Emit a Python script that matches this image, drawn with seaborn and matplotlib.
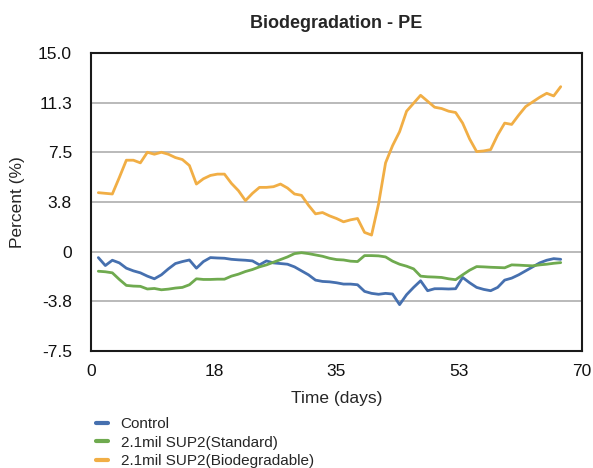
import pandas as pd
import matplotlib
matplotlib.use("Agg")
import matplotlib.pyplot as plt
import seaborn as sns

# values (percent), one per day
days = list(range(1, 68))

control = [-0.45, -1.05, -0.65, -0.85, -1.25, -1.45, -1.6, -1.85, -2.05, -1.75,
           -1.3, -0.9, -0.75, -0.63, -1.25, -0.75, -0.45, -0.48, -0.5, -0.58,
           -0.62, -0.65, -0.7, -1.0, -0.7, -0.85, -0.9, -0.95, -1.15, -1.45,
           -1.75, -2.15, -2.25, -2.28, -2.35, -2.45, -2.45, -2.5, -3.0, -3.15,
           -3.22, -3.15, -3.2, -4.0, -3.25, -2.7, -2.2, -2.95, -2.8, -2.8,
           -2.82, -2.8, -1.95, -2.35, -2.7, -2.85, -2.95, -2.7, -2.15, -2.0,
           -1.75, -1.45, -1.15, -0.85, -0.65, -0.53, -0.58]

standard = [-1.48, -1.52, -1.6, -2.1, -2.55, -2.6, -2.62, -2.82, -2.78, -2.88,
            -2.83, -2.75, -2.7, -2.5, -2.05, -2.1, -2.1, -2.08, -2.08, -1.85,
            -1.7, -1.5, -1.35, -1.15, -1.0, -0.8, -0.6, -0.4, -0.15, -0.08,
            -0.15, -0.25, -0.35, -0.5, -0.6, -0.63, -0.72, -0.75, -0.3, -0.3,
            -0.32, -0.4, -0.72, -0.95, -1.1, -1.3, -1.85, -1.9, -1.92, -1.95,
            -2.05, -2.12, -1.75, -1.4, -1.13, -1.15, -1.18, -1.2, -1.22, -1.0,
            -1.02, -1.05, -1.07, -1.0, -0.95, -0.88, -0.83]

biodegradable = [4.45, 4.4, 4.35, 5.6, 6.9, 6.9, 6.7, 7.5, 7.35, 7.5,
                 7.35, 7.1, 6.95, 6.5, 5.1, 5.5, 5.75, 5.85, 5.85, 5.15,
                 4.6, 3.85, 4.4, 4.85, 4.85, 4.9, 5.1, 4.8, 4.35, 4.25,
                 3.5, 2.85, 2.95, 2.7, 2.5, 2.25, 2.4, 2.5, 1.45, 1.25,
                 3.6, 6.7, 8.0, 9.05, 10.6, 11.2, 11.8, 11.35, 10.9, 10.8,
                 10.6, 10.5, 9.7, 8.5, 7.55, 7.6, 7.7, 8.8, 9.7, 9.6,
                 10.3, 10.95, 11.3, 11.65, 11.95, 11.75, 12.45]

series_names = ['Control', '2.1mil SUP2(Standard)', '2.1mil SUP2(Biodegradable)']
colors = ['#4670AF', '#6FAA4F', '#F1AE45']

x_ticks = [0, 17.5, 35, 52.5, 70]
x_labels = ['0', '18', '35', '53', '70']
y_ticks = [-7.5, -3.75, 0, 3.75, 7.5, 11.25, 15]
y_labels = ['-7.5', '-3.8', '0', '3.8', '7.5', '11.3', '15.0']

df = pd.DataFrame({'day': days, series_names[0]: control,
                   series_names[1]: standard, series_names[2]: biodegradable})
long_df = df.melt(id_vars='day', var_name='series', value_name='percent')

sns.set_style('white')
plt.rcParams['font.family'] = ['Liberation Sans', 'DejaVu Sans']

fig = plt.figure(figsize=(5.93, 4.68), dpi=100)
ax = fig.add_axes([0.154, 0.25, 0.827, 0.637])

for y in y_ticks[1:-1]:
    ax.axhline(y, color='#B4B4B4', lw=1.3, zorder=0)

sns.lineplot(data=long_df, x='day', y='percent', hue='series', hue_order=series_names,
             palette=colors, linewidth=2, ax=ax, legend=False)

ax.set_xlim(0, 70)
ax.set_ylim(-7.5, 15)
ax.set_xticks(x_ticks)
ax.set_xticklabels(x_labels)
ax.set_yticks(y_ticks)
ax.set_yticklabels(y_labels)
ax.tick_params(axis='both', length=0, labelsize=12.5, colors='#111111')
ax.tick_params(axis='x', pad=9)
ax.tick_params(axis='y', pad=14)
for s in ax.spines.values():
    s.set_color('#1a1a1a')
    s.set_linewidth(1.5)

ax.set_xlabel('Time (days)', fontsize=12.5, labelpad=9)
ax.set_ylabel('Percent (%)', fontsize=12.5, labelpad=9)
ax.set_title('Biodegradation - PE', fontsize=13, fontweight='bold', pad=18)

handles = [plt.Line2D([], [], color=c, lw=3) for c in colors]
fig.legend(handles, series_names, loc='upper left', bbox_to_anchor=(0.152, 0.122),
           frameon=False, fontsize=11, handlelength=0.8, handletextpad=0.8,
           labelspacing=0.3, borderaxespad=0)

fig.savefig('out.png', dpi=100)
